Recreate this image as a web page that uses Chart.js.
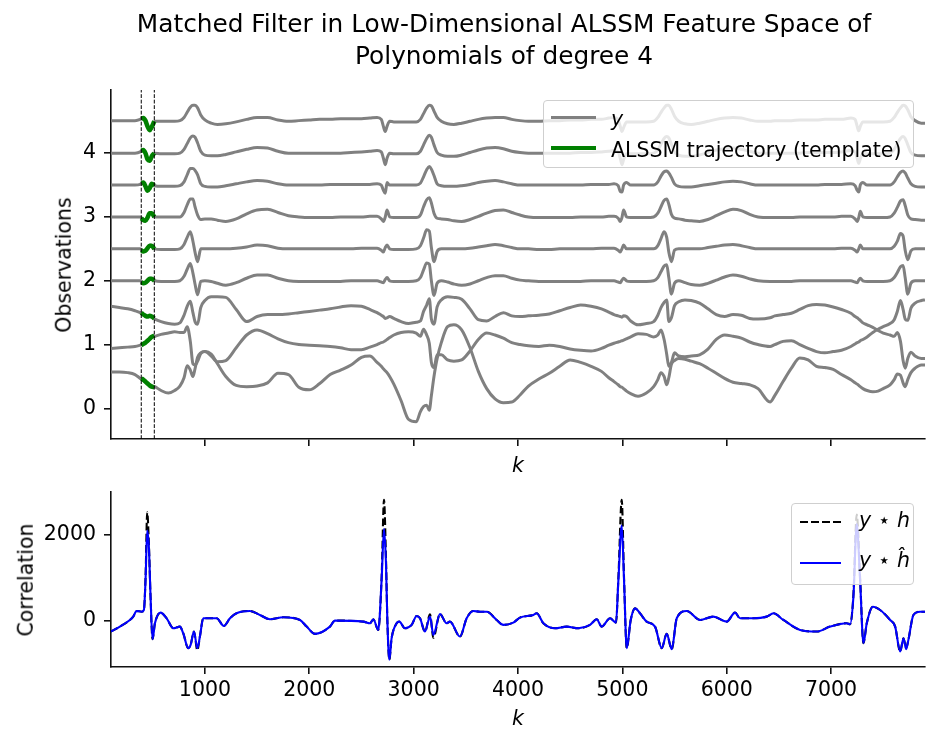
<!DOCTYPE html>
<html>
<head>
<meta charset="utf-8">
<script src="https://cdn.jsdelivr.net/npm/chart.js@4.4.1/dist/chart.umd.min.js"></script>
<style>
  html, body { margin: 0; padding: 0; background: #fff; }
  #fig { position: relative; width: 939px; height: 745px; overflow: hidden; font-family: 'DejaVu Sans', sans-serif; color: #000; }
  #fig canvas { position: absolute; left: 0; }
  .txt { position: absolute; white-space: nowrap; line-height: 1; }
  .title { font-size: 24.8px; left: 504px; transform: translateX(-50%); }
  .lbl { font-size: 20.5px; }
  .ylbl { transform: translate(-50%, -50%) rotate(-90deg); }
  .leg { position: absolute; box-sizing: border-box; border: 1.5px solid #cfcfcf; border-radius: 4px; background: rgba(255,255,255,0.8); }
  .swatch { position: absolute; }
</style>
</head>
<body>
<div id="fig">
  <canvas id="c-obs" width="939" height="480" style="top:0"></canvas>
  <canvas id="c-corr" width="939" height="265" style="top:480px"></canvas>

  <div class="txt title" style="top:12px">Matched Filter in Low-Dimensional ALSSM Feature Space of</div>
  <div class="txt title" style="top:44px">Polynomials of degree 4</div>

  <div class="txt lbl ylbl" style="left:64px; top:265px">Observations</div>
  <div class="txt lbl ylbl" style="left:25.5px; top:580px">Correlation</div>
  <div class="txt lbl" style="left:518px; top:455px; transform:translateX(-50%)"><i>k</i></div>
  <div class="txt lbl" style="left:518px; top:708px; transform:translateX(-50%)"><i>k</i></div>

  <div class="leg" style="left:543px; top:100px; width:371px; height:68px"></div>
  <div class="swatch" style="left:551px; top:115.8px; width:45px; height:3px; background:#808080"></div>
  <div class="txt lbl" style="left:611px; top:109px"><i>y</i></div>
  <div class="swatch" style="left:551px; top:146.2px; width:45px; height:4.2px; background:#008000"></div>
  <div class="txt lbl" style="left:611px; top:140px">ALSSM trajectory (template)</div>

  <div class="leg" style="left:791px; top:503px; width:123px; height:82px"></div>
  <div class="swatch" style="left:800px; top:521.3px; width:41px; height:2.1px; background:repeating-linear-gradient(to right, #000 0 7.7px, transparent 7.7px 11px)"></div>
  <div class="txt lbl" style="left:859px; top:510px"><i>y</i> ⋆ <i>h</i></div>
  <div class="swatch" style="left:800px; top:562.3px; width:41px; height:2.1px; background:#0000ff"></div>
  <div class="txt lbl" style="left:859px; top:550px"><i>y</i> ⋆ <i>ĥ</i></div>
</div>

<script>
// sample index k shared by the observation traces
const kObs = [100,180,260,330,380,400,425,450,475,500,
  520,580,650,710,760,800,830,860,885,905,
  930,960,1000,1060,1120,1200,1300,1400,1500,1600,
  1700,1800,1900,2000,2100,2200,2300,2400,2500,2580,
  2650,2690,2710,2728,2745,2770,2810,2880,2950,3025,
  3065,3095,3125,3150,3170,3195,3225,3265,3325,3385,
  3460,3540,3620,3700,3780,3860,3940,4020,4100,4200,
  4300,4400,4500,4600,4700,4800,4870,4920,4960,4980,
  4996,5012,5040,5080,5150,5230,5300,5340,5370,5400,
  5425,5445,5470,5500,5540,5600,5660,5740,5820,5900,
  5980,6060,6140,6220,6300,6415,6460,6540,6620,6700,
  6780,6860,6940,7020,7100,7190,7230,7250,7265,7280,
  7305,7345,7400,7450,7500,7565,7605,7635,7665,7690,
  7710,7735,7765,7805,7865,7900];

// observations y (offset channels, top to bottom)
const obs1 = [4.51,4.51,4.51,4.51,4.53,4.55,4.52,4.42,4.36,4.44,
  4.50,4.50,4.50,4.50,4.51,4.56,4.64,4.72,4.75,4.75,
  4.71,4.60,4.52,4.47,4.45,4.46,4.49,4.53,4.56,4.56,
  4.52,4.50,4.51,4.52,4.53,4.53,4.54,4.54,4.54,4.55,
  4.56,4.53,4.42,4.34,4.42,4.50,4.49,4.49,4.49,4.49,
  4.53,4.62,4.71,4.75,4.74,4.66,4.56,4.50,4.46,4.45,
  4.47,4.50,4.53,4.55,4.56,4.56,4.53,4.51,4.50,4.50,
  4.51,4.51,4.52,4.52,4.53,4.53,4.55,4.56,4.52,4.42,
  4.34,4.40,4.49,4.49,4.49,4.49,4.50,4.56,4.64,4.71,
  4.75,4.75,4.69,4.58,4.50,4.46,4.45,4.47,4.50,4.53,
  4.55,4.56,4.55,4.52,4.50,4.50,4.51,4.51,4.51,4.52,
  4.52,4.52,4.53,4.53,4.53,4.55,4.53,4.42,4.35,4.42,
  4.49,4.49,4.49,4.49,4.49,4.50,4.56,4.64,4.71,4.75,
  4.74,4.68,4.57,4.51,4.47,4.47];
const obs2 = [4.00,4.00,4.00,4.00,4.02,4.05,4.02,3.90,3.88,3.96,
  4.00,3.99,3.99,3.99,4.00,4.06,4.15,4.24,4.27,4.25,
  4.16,4.03,3.97,3.96,3.96,3.98,4.02,4.06,4.09,4.08,
  4.03,4.00,4.00,4.00,4.00,4.00,4.00,4.01,4.02,4.03,
  4.04,4.02,3.92,3.82,3.92,4.00,3.99,3.99,3.99,3.99,
  4.03,4.13,4.23,4.28,4.25,4.13,4.01,3.97,3.95,3.95,
  3.97,4.01,4.05,4.08,4.09,4.07,4.03,4.01,4.00,4.00,
  4.00,4.00,4.00,4.01,4.01,4.02,4.03,4.04,4.02,3.92,
  3.82,3.90,3.99,3.99,3.99,3.99,4.00,4.05,4.14,4.23,
  4.26,4.24,4.14,4.02,3.97,3.95,3.95,3.97,4.01,4.05,
  4.07,4.08,4.06,4.03,4.00,4.00,4.00,4.00,4.00,4.00,
  4.01,4.01,4.01,4.01,4.02,4.04,4.02,3.92,3.84,3.91,
  3.99,3.99,3.99,3.99,3.99,4.00,4.06,4.15,4.23,4.26,
  4.23,4.13,4.01,3.97,3.96,3.96];
const obs3 = [3.50,3.50,3.50,3.50,3.51,3.54,3.50,3.41,3.46,3.52,
  3.49,3.48,3.48,3.48,3.49,3.55,3.66,3.76,3.76,3.73,
  3.66,3.52,3.48,3.47,3.47,3.49,3.52,3.55,3.57,3.56,
  3.52,3.50,3.50,3.50,3.50,3.51,3.51,3.51,3.51,3.51,
  3.52,3.50,3.42,3.37,3.54,3.50,3.50,3.50,3.50,3.50,
  3.53,3.63,3.74,3.79,3.75,3.65,3.52,3.49,3.48,3.48,
  3.49,3.51,3.54,3.56,3.57,3.55,3.52,3.50,3.50,3.50,
  3.50,3.50,3.50,3.50,3.51,3.51,3.51,3.52,3.49,3.40,
  3.39,3.50,3.54,3.50,3.50,3.50,3.50,3.55,3.64,3.71,
  3.72,3.69,3.62,3.52,3.48,3.47,3.47,3.49,3.51,3.53,
  3.55,3.56,3.55,3.52,3.50,3.50,3.50,3.50,3.50,3.50,
  3.50,3.50,3.51,3.51,3.51,3.52,3.49,3.42,3.39,3.50,
  3.54,3.50,3.50,3.50,3.50,3.50,3.55,3.63,3.70,3.72,
  3.69,3.61,3.52,3.48,3.47,3.47];
const obs4 = [3.00,3.00,3.00,3.00,3.00,2.96,2.94,2.99,3.07,3.04,
  3.00,3.00,3.00,3.00,3.00,3.07,3.19,3.28,3.28,3.16,
  3.03,2.96,2.97,2.97,2.95,2.93,2.97,3.05,3.11,3.12,
  3.07,3.02,3.00,2.99,2.99,2.99,3.00,3.00,3.00,3.01,
  3.01,2.97,2.93,3.00,3.11,3.00,2.99,2.99,2.99,2.99,
  3.03,3.16,3.27,3.30,3.22,3.06,2.98,2.97,2.96,2.94,
  2.93,2.96,3.01,3.06,3.10,3.11,3.07,3.03,3.00,2.99,
  2.99,2.99,2.99,3.00,3.00,3.00,3.01,3.01,2.98,2.93,
  2.99,3.11,3.00,2.99,2.99,2.99,3.00,3.06,3.16,3.26,
  3.28,3.20,3.04,2.98,2.97,2.95,2.94,2.93,2.96,3.02,
  3.08,3.12,3.10,3.04,3.00,2.99,2.99,2.99,2.99,3.00,
  3.00,3.00,3.00,3.00,3.01,3.01,2.97,2.93,2.99,3.09,
  3.00,2.99,2.99,2.99,2.99,3.00,3.06,3.15,3.25,3.27,
  3.18,3.03,2.97,2.96,2.95,2.95];
const obs5 = [2.50,2.50,2.50,2.50,2.50,2.47,2.46,2.51,2.56,2.53,
  2.50,2.49,2.49,2.49,2.50,2.57,2.68,2.77,2.62,2.45,
  2.30,2.50,2.50,2.50,2.50,2.50,2.51,2.53,2.56,2.55,
  2.51,2.50,2.50,2.50,2.50,2.50,2.50,2.50,2.51,2.51,
  2.51,2.48,2.45,2.52,2.56,2.50,2.49,2.49,2.49,2.50,
  2.55,2.67,2.80,2.78,2.52,2.30,2.46,2.50,2.50,2.50,
  2.50,2.51,2.53,2.55,2.57,2.55,2.52,2.50,2.50,2.49,
  2.49,2.50,2.50,2.50,2.50,2.51,2.51,2.51,2.48,2.45,
  2.50,2.56,2.50,2.50,2.50,2.50,2.50,2.55,2.66,2.77,
  2.68,2.45,2.30,2.48,2.50,2.50,2.50,2.50,2.52,2.54,
  2.56,2.57,2.55,2.52,2.50,2.50,2.50,2.50,2.50,2.50,
  2.50,2.50,2.50,2.50,2.51,2.51,2.48,2.45,2.50,2.56,
  2.50,2.50,2.50,2.50,2.50,2.50,2.54,2.62,2.74,2.70,
  2.48,2.33,2.47,2.50,2.50,2.50];
const obs6 = [2.00,2.00,2.00,2.00,2.00,1.97,1.96,2.00,2.04,2.02,
  2.00,1.99,1.99,1.99,2.00,2.07,2.18,2.27,2.12,1.95,
  1.78,1.99,2.00,1.99,1.96,1.93,1.97,2.04,2.09,2.09,
  2.04,2.00,1.99,1.99,1.99,1.99,1.99,2.00,2.00,2.00,
  2.00,1.98,1.97,2.02,2.05,2.00,1.99,1.99,1.99,2.00,
  2.05,2.17,2.28,2.26,2.00,1.77,1.96,2.00,1.98,1.95,
  1.93,1.95,2.00,2.05,2.08,2.08,2.04,2.01,2.00,1.99,
  1.99,1.99,1.99,1.99,2.00,2.00,2.00,2.00,1.98,1.97,
  2.01,2.04,2.00,1.99,1.99,1.99,2.00,2.05,2.14,2.23,
  2.25,2.05,1.79,1.96,2.00,1.97,1.94,1.93,1.96,2.01,
  2.06,2.09,2.07,2.03,2.00,1.99,1.99,1.99,1.99,2.00,
  2.00,2.00,2.00,2.00,2.00,2.00,1.98,1.97,2.01,2.04,
  2.00,1.99,1.99,1.99,1.99,2.00,2.05,2.13,2.22,2.24,
  2.05,1.79,1.96,2.00,2.00,2.00];
const obs7 = [1.60,1.58,1.56,1.53,1.50,1.48,1.46,1.44,1.44,1.42,
  1.40,1.36,1.33,1.32,1.34,1.46,1.60,1.68,1.50,1.36,
  1.32,1.58,1.69,1.75,1.75,1.74,1.55,1.36,1.44,1.47,
  1.47,1.48,1.50,1.52,1.54,1.56,1.59,1.61,1.60,1.55,
  1.50,1.46,1.44,1.41,1.42,1.44,1.41,1.36,1.33,1.35,
  1.37,1.52,1.62,1.72,1.40,1.32,1.59,1.70,1.75,1.74,
  1.71,1.56,1.39,1.37,1.44,1.50,1.45,1.44,1.45,1.46,
  1.48,1.53,1.58,1.62,1.60,1.56,1.51,1.47,1.45,1.44,
  1.43,1.45,1.44,1.37,1.31,1.33,1.36,1.46,1.58,1.66,
  1.70,1.36,1.42,1.61,1.67,1.70,1.69,1.65,1.56,1.47,
  1.44,1.47,1.46,1.41,1.40,1.42,1.45,1.47,1.49,1.55,
  1.61,1.63,1.62,1.59,1.55,1.49,1.44,1.42,1.40,1.38,
  1.34,1.31,1.27,1.22,1.18,1.15,1.13,1.19,1.05,0.75,
  0.63,0.78,0.88,0.82,0.78,0.78];
const obs8 = [0.94,0.95,0.96,0.97,0.99,1.00,1.02,1.05,1.09,1.12,
  1.13,1.16,1.18,1.20,1.19,1.19,1.28,1.05,0.70,0.68,
  0.74,0.86,0.89,0.82,0.73,0.75,0.95,1.15,1.23,1.17,
  1.09,1.03,1.00,0.99,0.98,0.97,0.95,0.92,0.92,0.96,
  1.00,1.03,1.04,1.06,1.08,1.11,1.15,1.19,1.20,1.18,
  1.13,1.24,1.15,1.02,0.72,0.64,0.84,0.84,0.76,0.74,
  0.76,0.90,1.08,1.18,1.15,1.10,1.03,1.00,0.98,0.97,
  0.99,0.97,0.93,0.91,0.90,0.94,0.99,1.02,1.04,1.05,
  1.06,1.07,1.09,1.12,1.17,1.16,1.12,1.15,1.23,1.08,
  0.85,0.66,0.72,0.87,0.82,0.81,0.82,0.84,0.93,1.08,
  1.15,1.13,1.10,1.04,1.00,0.97,1.00,1.05,1.06,1.00,
  0.94,0.89,0.87,0.89,0.91,0.97,1.01,1.03,1.04,1.06,
  1.08,1.12,1.19,1.24,1.28,1.33,1.39,1.52,1.69,1.55,
  1.40,1.38,1.57,1.65,1.69,1.70];
const obs9 = [0.57,0.57,0.56,0.53,0.47,0.45,0.42,0.39,0.37,0.35,
  0.34,0.28,0.24,0.28,0.35,0.48,0.67,0.60,0.50,0.62,
  0.80,0.87,0.89,0.85,0.70,0.50,0.36,0.34,0.35,0.40,
  0.55,0.53,0.33,0.29,0.39,0.53,0.60,0.68,0.80,0.82,
  0.72,0.66,0.62,0.59,0.56,0.50,0.38,0.12,-0.17,-0.21,
  -0.05,0.03,0.05,-0.03,0.20,0.50,0.78,1.03,1.28,1.31,
  1.23,0.95,0.58,0.31,0.15,0.09,0.10,0.21,0.35,0.46,
  0.55,0.66,0.76,0.72,0.66,0.58,0.48,0.42,0.37,0.34,
  0.33,0.31,0.27,0.23,0.19,0.24,0.34,0.45,0.56,0.50,
  0.37,0.48,0.69,0.75,0.78,0.77,0.74,0.70,0.63,0.55,
  0.47,0.41,0.39,0.37,0.31,0.10,0.20,0.42,0.63,0.79,
  0.76,0.66,0.64,0.61,0.53,0.45,0.40,0.38,0.36,0.34,
  0.31,0.28,0.26,0.27,0.31,0.37,0.45,0.54,0.52,0.40,
  0.34,0.45,0.56,0.63,0.68,0.68];

// ALSSM trajectory (template) over the window
const kTpl = [390,410,430,450,470,490,515];
const tpl1 = [4.54,4.55,4.51,4.42,4.36,4.41,4.50];
const tpl2 = [4.04,4.05,4.00,3.90,3.88,3.95,4.00];
const tpl3 = [3.53,3.54,3.48,3.41,3.45,3.52,3.49];
const tpl4 = [2.98,2.95,2.94,2.99,3.06,3.06,3.00];
const tpl5 = [2.48,2.46,2.47,2.51,2.55,2.55,2.50];
const tpl6 = [1.98,1.96,1.97,2.00,2.03,2.03,2.00];
const tpl7 = [1.50,1.47,1.45,1.44,1.45,1.44,1.41];
const tpl8 = [0.99,1.01,1.03,1.06,1.09,1.12,1.14];
const tpl9 = [0.47,0.45,0.42,0.39,0.36,0.34,0.33];
const tplBounds = [390, 515];

// correlation
const kCorr = [100,185,281,313,345,393,415,431,447,463,
  479,498,521,575,633,697,760,792,840,863,
  895,927,952,984,1112,1182,1240,1303,1431,1527,
  1623,1751,1911,1975,2054,2198,2246,2518,2582,2614,
  2661,2693,2716,2735,2748,2767,2789,2837,2863,2917,
  2981,3029,3061,3109,3157,3189,3252,3316,3348,3444,
  3508,3572,3636,3700,3796,3860,3955,4019,4147,4179,
  4243,4355,4467,4578,4690,4754,4802,4882,4939,4962,
  4994,5016,5042,5080,5122,5169,5233,5313,5377,5425,
  5473,5521,5617,5745,5872,6000,6080,6128,6256,6383,
  6448,6543,6703,6863,6991,7150,7182,7214,7246,7278,
  7310,7342,7400,7470,7566,7614,7662,7694,7719,7741,
  7789,7853,7900];
const corrH = [-255,-139,15,93,224,208,247,1000,2525,1800,
  556,-432,-62,185,54,-178,-139,-293,-641,-564,
  -255,-690,-371,54,54,-124,54,170,224,131,
  31,77,15,-139,-309,-139,0,-23,-62,31,
  -216,1000,2811,1450,15,-911,-409,-62,-23,-178,
  -100,108,54,-255,150,-400,154,-62,-23,-371,
  54,224,208,208,15,-100,-46,69,131,170,
  -62,-178,-139,-178,-100,31,-139,54,-46,1000,
  2811,1000,-641,15,286,170,-23,-139,-641,-309,
  -664,54,224,15,93,-23,185,54,54,93,
  170,15,-216,-255,-139,-62,-85,600,2470,1000,
  -525,-62,324,247,15,-139,-718,-409,-640,-448,
  131,208,208];
const corrHhat = [-255,-139,15,93,224,208,247,942,2100,1714,
  556,-432,-62,185,54,-178,-139,-293,-641,-564,
  -255,-641,-371,54,54,-124,54,170,224,131,
  31,77,15,-139,-309,-139,0,-23,-62,31,
  -216,942,2139,1328,15,-911,-409,-62,-23,-178,
  -100,108,54,-255,93,-332,154,-62,-23,-371,
  54,224,208,208,15,-100,-46,69,131,170,
  -62,-178,-139,-178,-100,31,-139,54,-46,942,
  2216,942,-641,15,286,170,-23,-139,-641,-309,
  -664,54,224,15,93,-23,185,54,54,93,
  170,15,-216,-255,-139,-62,-85,556,2250,942,
  -525,-62,324,247,15,-139,-718,-409,-664,-448,
  131,208,208];

const kTicks = [1000,2000,3000,4000,5000,6000,7000];
const obsTicks = [0,1,2,3,4];
const corrTicks = [0,2000];
const kRange = [100, 7900];
const obsRange = [-0.48, 4.99];
const corrRange = [-1080, 2995];

const FONT = "'DejaVu Sans', sans-serif";
const pts = (xs, ys) => xs.map((x, i) => ({ x, y: ys[i] }));

function axis(range, ticks, showLabels, fit) {
  return {
    type: 'linear', min: range[0], max: range[1],
    afterBuildTicks: s => { s.ticks = ticks.map(v => ({ value: v })); },
    afterFit: fit,
    grid: { drawOnChartArea: false, drawTicks: true, tickLength: 7, color: '#111', lineWidth: 1.6 },
    border: { display: true, color: '#111', width: 1.6 },
    ticks: {
      display: showLabels, color: '#000', padding: 8, autoSkip: false, maxRotation: 0,
      font: { family: FONT, size: 20.5, lineHeight: 1 },
      callback: v => String(v),
    },
  };
}
const yFit = s => { s.width = 111; s.paddingTop = 0; s.paddingBottom = 0; };
const xFit = h => s => { s.height = h; s.paddingLeft = 0; s.paddingRight = 0; };

const base = {
  responsive: false, animation: false, events: [],
  plugins: { legend: { display: false }, tooltip: { enabled: false } },
  elements: { point: { radius: 0 } },
};

const grays = [obs1, obs2, obs3, obs4, obs5, obs6, obs7, obs8, obs9];
const greens = [tpl1, tpl2, tpl3, tpl4, tpl5, tpl6, tpl7, tpl8, tpl9];

new Chart(document.getElementById('c-obs'), {
  type: 'line',
  data: {
    datasets: [
      ...tplBounds.map(k => ({
        data: [{ x: k, y: obsRange[0] }, { x: k, y: obsRange[1] }],
        borderColor: '#000', borderWidth: 1, borderDash: [3.8, 1.7], order: 0,
      })),
      ...greens.map(d => ({
        data: pts(kTpl, d), borderColor: '#008000', borderWidth: 4.5,
        cubicInterpolationMode: 'monotone', order: 1,
      })),
      ...grays.map(d => ({
        data: pts(kObs, d), borderColor: '#808080', borderWidth: 3,
        cubicInterpolationMode: 'monotone', order: 2,
      })),
    ],
  },
  options: {
    ...base,
    layout: { padding: { left: 0, right: 14, top: 90, bottom: 0 } },
    scales: {
      x: axis(kRange, kTicks, false, xFit(41)),
      y: axis(obsRange, obsTicks, true, yFit),
    },
  },
});

const xc = axis(kRange, kTicks, true, xFit(78));
xc.ticks.padding = 6;
new Chart(document.getElementById('c-corr'), {
  type: 'line',
  data: {
    datasets: [
      { data: pts(kCorr, corrHhat), borderColor: '#0000ff', borderWidth: 2.1,
        cubicInterpolationMode: 'monotone', order: 0 },
      { data: pts(kCorr, corrH), borderColor: '#000', borderWidth: 2.1, borderDash: [7.7, 3.3],
        cubicInterpolationMode: 'monotone', order: 1 },
    ],
  },
  options: {
    ...base,
    layout: { padding: { left: 0, right: 14, top: 12, bottom: 0 } },
    scales: {
      x: xc,
      y: axis(corrRange, corrTicks, true, yFit),
    },
  },
});
</script>
</body>
</html>
